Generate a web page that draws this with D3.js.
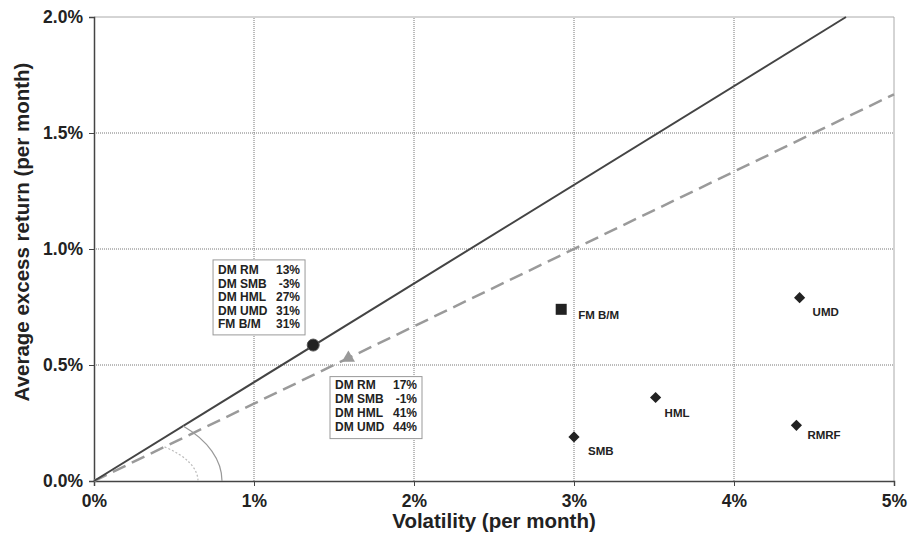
<!DOCTYPE html>
<html>
<head>
<meta charset="utf-8">
<script src="https://cdn.jsdelivr.net/npm/d3@7"></script>
<style>
  body { margin: 0; background: #fff; }
  svg text { font-family: "Liberation Sans", Arial, sans-serif; font-weight: bold; fill: #222; }
</style>
</head>
<body>
<div id="chart"></div>
<script>
// volatility vs average excess return
(function () {
    "use strict";
    var w = 910, h = 539;
    var margin = {top: 17, right: 16, bottom: 58, left: 94};

    var xTicks = [0, 1, 2, 3, 4, 5],
        xTickLabels = ["0%", "1%", "2%", "3%", "4%", "5%"],
        yTicks = [0, 0.5, 1.0, 1.5, 2.0],
        yTickLabels = ["0.0%", "0.5%", "1.0%", "1.5%", "2.0%"];

    // factor points: [volatility, mean excess return]
    var factorNames = ["SMB", "HML", "UMD", "RMRF"],
        factorVol = [3.0, 3.51, 4.41, 4.39],
        factorRet = [0.19, 0.36, 0.79, 0.24];
    var fmName = "FM B/M", fmVol = 2.92, fmRet = 0.74;

    // tangency portfolios
    var tanAll = [1.37, 0.586],     // with FM B/M (circle, solid line)
        tanDM = [1.59, 0.53];       // DM only (triangle, dashed line)
    var solidLine = [[0, 0], [4.7, 2.0]],
        dashedLine = [[0, 0], [5.0, 1.667]];

    var boxAllLabels = ["DM RM", "DM SMB", "DM HML", "DM UMD", "FM B/M"],
        boxAllValues = ["13%", "-3%", "27%", "31%", "31%"],
        boxDMLabels = ["DM RM", "DM SMB", "DM HML", "DM UMD"],
        boxDMValues = ["17%", "-1%", "41%", "44%"];

    var x = d3.scaleLinear().domain([0, 5]).range([margin.left, w - margin.right]);
    var y = d3.scaleLinear().domain([0, 2]).range([h - margin.bottom, margin.top]);

    var svg = d3.select('#chart').append('svg').attr('width', w).attr('height', h);

    // grid
    svg.append('g').selectAll('line').data(xTicks.slice(1, -1)).enter().append('line')
        .attr('x1', function (d) { return x(d); }).attr('x2', function (d) { return x(d); })
        .attr('y1', y(0)).attr('y2', y(2))
        .attr('stroke', '#777').attr('stroke-width', 1).attr('stroke-dasharray', '1,1');
    svg.append('g').selectAll('line').data(yTicks.slice(1, -1)).enter().append('line')
        .attr('y1', function (d) { return y(d); }).attr('y2', function (d) { return y(d); })
        .attr('x1', x(0)).attr('x2', x(5))
        .attr('stroke', '#777').attr('stroke-width', 1).attr('stroke-dasharray', '1,1');

    // frame top/right
    svg.append('path')
        .attr('d', 'M' + x(0) + ',' + y(2) + 'H' + x(5) + 'V' + y(0))
        .attr('fill', 'none').attr('stroke', '#aaa').attr('stroke-width', 1);

    // axes
    var xAxis = d3.axisBottom(x).tickValues(xTicks).tickSize(5)
        .tickFormat(function (d, i) { return xTickLabels[i]; });
    var yAxis = d3.axisLeft(y).tickValues(yTicks).tickSize(5)
        .tickFormat(function (d, i) { return yTickLabels[i]; });

    var gx = svg.append('g').attr('transform', 'translate(0,' + y(0) + ')').call(xAxis);
    gx.select('.domain').attr('stroke', '#444').attr('stroke-width', 1.5);
    gx.selectAll('.tick line').attr('stroke', '#444');
    gx.selectAll('.tick text').attr('font-size', 17.5).attr('dy', '1.02em').attr('fill', '#222');

    var gy = svg.append('g').attr('transform', 'translate(' + x(0) + ',0)').call(yAxis);
    gy.select('.domain').attr('stroke', '#444').attr('stroke-width', 1.5);
    gy.selectAll('.tick line').attr('stroke', '#444');
    gy.selectAll('.tick text').attr('font-size', 17.5).attr('x', -11).attr('fill', '#222');

    svg.append('text').attr('x', (x(0) + x(5)) / 2).attr('y', 528)
        .attr('text-anchor', 'middle').attr('font-size', 20.5).text('Volatility (per month)');
    svg.append('text').attr('transform', 'translate(29,' + 232 + ') rotate(-90)')
        .attr('text-anchor', 'middle').attr('font-size', 20.5).text('Average excess return (per month)');

    // capital lines
    var line = d3.line().x(function (d) { return x(d[0]); }).y(function (d) { return y(d[1]); });
    svg.append('path').datum(dashedLine).attr('d', line)
        .attr('stroke', '#9a9a9a').attr('stroke-width', 2.5).attr('stroke-dasharray', '14,7').attr('fill', 'none');
    svg.append('path').datum(solidLine).attr('d', line)
        .attr('stroke', '#444').attr('stroke-width', 2).attr('fill', 'none');

    // angle arcs (ellipses in data units)
    function arcPath(rx, ry, slope) {
        var t = Math.atan(slope * rx / ry);
        var rxPx = x(rx) - x(0), ryPx = y(0) - y(ry);
        var sx = x(rx * Math.cos(t)), sy = y(ry * Math.sin(t));
        return 'M' + sx + ',' + sy + 'A' + rxPx + ',' + ryPx + ' 0 0 1 ' + x(rx) + ',' + y(0);
    }
    svg.append('path').attr('d', arcPath(0.80, 0.33, solidLine[1][1] / solidLine[1][0]))
        .attr('fill', 'none').attr('stroke', '#999').attr('stroke-width', 1.2);
    svg.append('path').attr('d', arcPath(0.65, 0.20, dashedLine[1][1] / dashedLine[1][0]))
        .attr('fill', 'none').attr('stroke', '#bbb').attr('stroke-width', 1.2).attr('stroke-dasharray', '2,2');

    // tangency markers
    svg.append('path').attr('d', d3.symbol().type(d3.symbolTriangle).size(75)())
        .attr('transform', 'translate(' + x(tanDM[0]) + ',' + y(tanDM[1]) + ')').attr('fill', '#999');
    svg.append('circle').attr('cx', x(tanAll[0])).attr('cy', y(tanAll[1])).attr('r', 6)
        .attr('fill', '#222').attr('stroke', '#555').attr('stroke-width', 1);

    // FM B/M square
    svg.append('rect').attr('x', x(fmVol) - 5.5).attr('y', y(fmRet) - 5.5)
        .attr('width', 11).attr('height', 11).attr('fill', '#222');
    svg.append('text').attr('x', x(fmVol) + 17).attr('y', y(fmRet) + 10)
        .attr('font-size', 11.5).text(fmName);

    // factor diamonds
    var labelOffsets = [[14, 18], [9, 20], [13, 18], [11, 14]];
    var diamond = d3.symbol().type(d3.symbolDiamond2).size(80)();
    factorNames.forEach(function (name, i) {
        svg.append('path').attr('d', diamond)
            .attr('transform', 'translate(' + x(factorVol[i]) + ',' + y(factorRet[i]) + ')')
            .attr('fill', '#222');
        svg.append('text').attr('x', x(factorVol[i]) + labelOffsets[i][0])
            .attr('y', y(factorRet[i]) + labelOffsets[i][1])
            .attr('font-size', 11.5).text(name);
    });

    // weight boxes
    function weightBox(bx, by, bw, bh, labels, values, lineH, firstBase) {
        var g = svg.append('g');
        g.append('rect').attr('x', bx).attr('y', by).attr('width', bw).attr('height', bh)
            .attr('fill', '#fff').attr('stroke', '#999').attr('stroke-width', 1);
        labels.forEach(function (lab, i) {
            g.append('text').attr('x', bx + 5).attr('y', by + firstBase + i * lineH)
                .attr('font-size', 12).text(lab);
            g.append('text').attr('x', bx + bw - 5).attr('y', by + firstBase + i * lineH)
                .attr('text-anchor', 'end').attr('font-size', 12).text(values[i]);
        });
    }
    weightBox(x(0.744), y(0.953), 92, 75, boxAllLabels, boxAllValues, 13.4, 14.5);
    weightBox(x(1.475), y(0.45), 92, 62, boxDMLabels, boxDMValues, 13.8, 12.8);
}());
</script>
</body>
</html>
